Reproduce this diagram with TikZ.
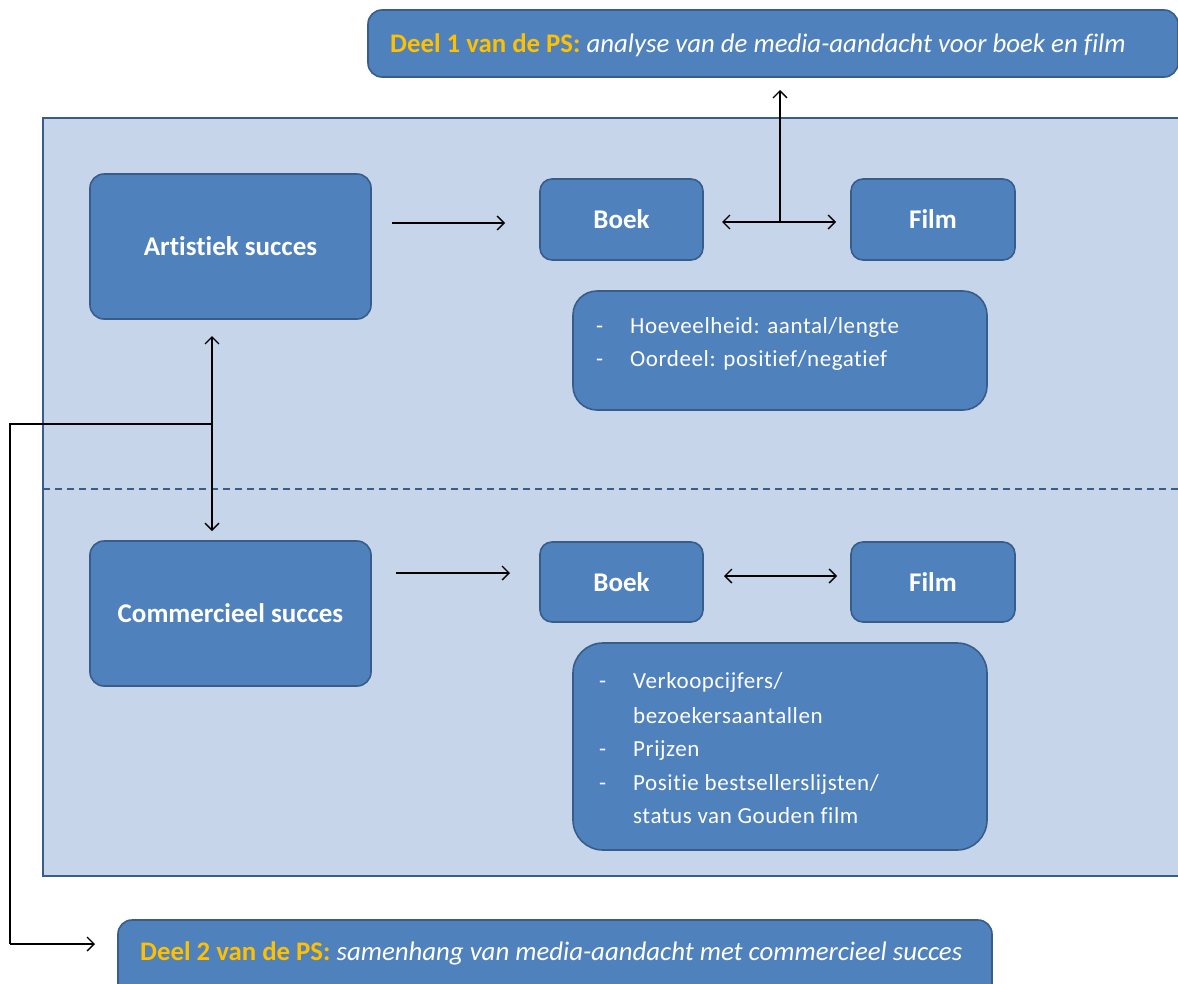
\documentclass[tikz,border=0pt]{standalone}
\usepackage{fontspec}
\setmainfont[Ligatures={NoCommon}]{Carlito}
\newfontfamily\listfont[Ligatures={NoCommon},LetterSpace=2.5]{Carlito}
\usetikzlibrary{arrows.meta}
\definecolor{boxfill}{HTML}{4F81BD}
\definecolor{boxline}{HTML}{385D8A}
\definecolor{bgfill}{HTML}{C6D5EA}
\definecolor{deel}{HTML}{FFC000}
\tikzset{
  box/.style={draw=boxline, line width=1.6pt, fill=boxfill, rounded corners=14pt, text=white, inner sep=0pt},
  lbl/.style={font=\bfseries\fontsize{27}{31}\selectfont},
  arr/.style={black, line width=1.3pt, -{Straight Barb[length=7pt,width=14pt]}},
  darr/.style={black, line width=1.3pt, {Straight Barb[length=7pt,width=14pt]}-{Straight Barb[length=7pt,width=14pt]}},
  ln/.style={black, line width=1.3pt},
}
\begin{document}
\begin{tikzpicture}[x=1pt,y=-1pt]
\useasboundingbox (0,0) rectangle (1178,983);
% background panel
\path[fill=bgfill, draw=boxline, line width=1.2pt] (43,118) rectangle (1180,876);
\draw[boxline, line width=1.4pt, dash pattern=on 7pt off 5pt] (43,489) -- (1178,489);
% top box
\node[box, minimum width=810pt, minimum height=67pt] (deel1) at (773,43.5) {};
\node[anchor=base west, inner sep=0pt, font=\fontsize{26.8}{30}\selectfont] (deel1t) at (390,52)
  {\textcolor{deel}{\bfseries Deel 1 van de PS:} \textcolor{white}{\itshape analyse van de media-aandacht voor boek en film}};
% bottom box
\node[box, minimum width=874pt, minimum height=80pt] (deel2) at (555,960) {};
\node[anchor=base west, inner sep=0pt, font=\fontsize{26.8}{30}\selectfont] (deel2t) at (140,960)
  {\textcolor{deel}{\bfseries Deel 2 van de PS:} \textcolor{white}{\itshape samenhang van media-aandacht met commercieel succes}};
% main boxes
\node[box, minimum width=281pt, minimum height=145pt, lbl] (art) at (230.5,246.5) {Artistiek succes};
\node[box, minimum width=281pt, minimum height=145pt, lbl] (com) at (230.5,613.5) {Commercieel succes};
\node[box, rounded corners=12pt, minimum width=163pt, minimum height=81pt, lbl] (boek1) at (621.5,219.5) {Boek};
\node[box, rounded corners=12pt, minimum width=164pt, minimum height=81pt, lbl] (film1) at (933,219.5) {Film};
\node[box, rounded corners=12pt, minimum width=163pt, minimum height=80pt, lbl] (boek2) at (621.5,582) {Boek};
\node[box, rounded corners=12pt, minimum width=164pt, minimum height=80pt, lbl] (film2) at (933,582) {Film};
% list boxes
\node[box, rounded corners=24pt, minimum width=414pt, minimum height=119pt] (list1) at (780,350.5) {};
\node[box, rounded corners=30pt, minimum width=414pt, minimum height=207pt] (list2) at (780,746.5) {};
\begin{scope}[every node/.style={text=white, anchor=base west, inner sep=0pt, font=\listfont\fontsize{23}{27}\selectfont}]
\node (l1a) at (596,333) {-};
\node (l1b) at (630,333) {Hoeveelheid: aantal/lengte};
\node (l1c) at (596,366) {-};
\node (l1d) at (630,366) {Oordeel: positief/negatief};
\node (l2a) at (599,688) {-};
\node (l2b) at (633,688) {Verkoopcijfers/};
\node (l2c) at (633,723) {bezoekersaantallen};
\node (l2d) at (599,756) {-};
\node (l2e) at (633,756) {Prijzen};
\node (l2f) at (599,790) {-};
\node (l2g) at (633,790) {Positie bestsellerslijsten/};
\node (l2h) at (633,823) {status van Gouden film};
\end{scope}
% connectors
\coordinate (a1s) at (392,223);
\coordinate (a1e) at (505,223);
\draw[arr] (a1s) -- (a1e);
\coordinate (a2s) at (396,573);
\coordinate (a2e) at (510,573);
\draw[arr] (a2s) -- (a2e);
\coordinate (d1s) at (722,222);
\coordinate (d1e) at (836,222);
\draw[darr] (d1s) -- (d1e);
\coordinate (d1m) at (780,222);
\coordinate (up) at (780,90);
\draw[arr] (d1m) -- (up);
\coordinate (d2s) at (724,576);
\coordinate (d2e) at (837,576);
\draw[darr] (d2s) -- (d2e);
\coordinate (vs) at (212,336);
\coordinate (ve) at (212,531);
\draw[darr] (vs) -- (ve);
\coordinate (br) at (212,424);
\coordinate (bl) at (10,424);
\coordinate (bb) at (10,944);
\coordinate (be) at (95,944);
\draw[ln] (br) -- (bl) -- (bb);
\draw[arr] (bb) -- (be);
\end{tikzpicture}
\end{document}
